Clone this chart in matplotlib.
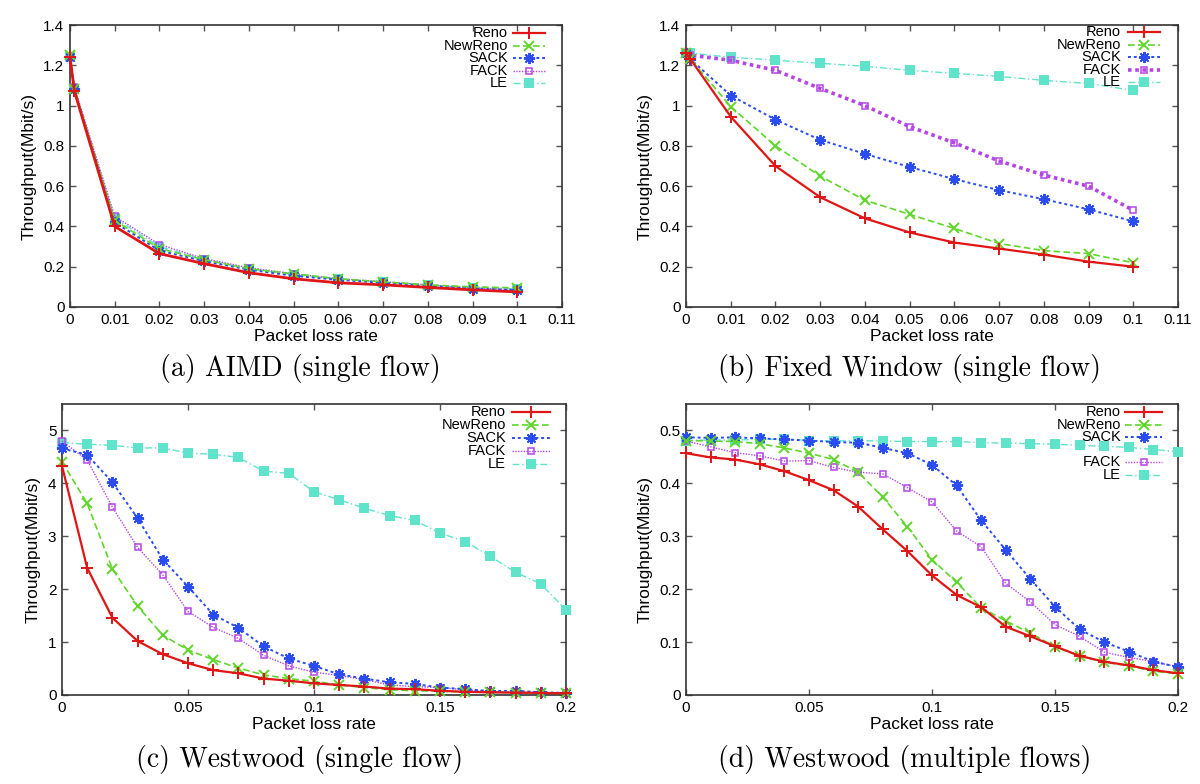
import matplotlib
matplotlib.use("Agg")
import matplotlib.pyplot as plt
from matplotlib.ticker import FuncFormatter

plt.rcParams['font.family'] = ['Liberation Sans', 'DejaVu Sans']

names = ["Reno", "NewReno", "SACK", "FACK", "LE"]

# (a) AIMD single flow
xa = [0, 0.001, 0.01, 0.02, 0.03, 0.04, 0.05, 0.06, 0.07, 0.08, 0.09, 0.1]
a_reno = [1.24, 1.07, 0.40, 0.265, 0.215, 0.17, 0.14, 0.12, 0.11, 0.097, 0.085, 0.075]
a_newreno = [1.25, 1.08, 0.43, 0.29, 0.235, 0.19, 0.165, 0.14, 0.125, 0.11, 0.10, 0.095]
a_sack = [1.24, 1.08, 0.42, 0.28, 0.228, 0.185, 0.155, 0.135, 0.12, 0.105, 0.09, 0.085]
a_fack = [1.24, 1.09, 0.45, 0.31, 0.24, 0.195, 0.165, 0.14, 0.125, 0.11, 0.095, 0.085]
a_le = [1.24, 1.08, 0.44, 0.30, 0.235, 0.19, 0.16, 0.14, 0.125, 0.11, 0.095, 0.09]

# (b) Fixed window single flow
xb = [0, 0.001, 0.01, 0.02, 0.03, 0.04, 0.05, 0.06, 0.07, 0.08, 0.09, 0.1]
b_reno = [1.26, 1.23, 0.945, 0.70, 0.545, 0.44, 0.37, 0.32, 0.29, 0.26, 0.225, 0.20]
b_newreno = [1.26, 1.23, 0.995, 0.80, 0.65, 0.53, 0.46, 0.39, 0.315, 0.28, 0.265, 0.22]
b_sack = [1.26, 1.23, 1.05, 0.93, 0.83, 0.76, 0.695, 0.635, 0.58, 0.535, 0.485, 0.425]
b_fack = [1.26, 1.25, 1.225, 1.175, 1.085, 1.00, 0.895, 0.815, 0.725, 0.655, 0.60, 0.48]
b_le = [1.26, 1.26, 1.24, 1.225, 1.21, 1.195, 1.175, 1.16, 1.145, 1.125, 1.11, 1.075]

# (c) Westwood single flow
xc = [0, 0.01, 0.02, 0.03, 0.04, 0.05, 0.06, 0.07, 0.08, 0.09, 0.1,
      0.11, 0.12, 0.13, 0.14, 0.15, 0.16, 0.17, 0.18, 0.19, 0.2]
c_reno = [4.33, 2.40, 1.46, 1.02, 0.77, 0.60, 0.47, 0.41, 0.31, 0.27, 0.22,
          0.19, 0.16, 0.12, 0.11, 0.08, 0.06, 0.05, 0.045, 0.04, 0.03]
c_newreno = [4.41, 3.62, 2.38, 1.68, 1.13, 0.85, 0.67, 0.51, 0.38, 0.31, 0.26,
             0.19, 0.14, 0.10, 0.08, 0.07, 0.06, 0.05, 0.045, 0.04, 0.03]
c_sack = [4.66, 4.54, 4.02, 3.34, 2.56, 2.05, 1.52, 1.27, 0.92, 0.69, 0.55,
          0.39, 0.31, 0.24, 0.21, 0.14, 0.11, 0.075, 0.08, 0.05, 0.04]
c_fack = [4.80, 4.44, 3.55, 2.79, 2.27, 1.58, 1.28, 1.07, 0.75, 0.55, 0.43,
          0.37, 0.29, 0.19, 0.16, 0.14, 0.10, 0.06, 0.06, 0.045, 0.04]
c_le = [4.77, 4.74, 4.72, 4.67, 4.67, 4.57, 4.55, 4.49, 4.23, 4.19, 3.84,
        3.69, 3.53, 3.39, 3.30, 3.06, 2.90, 2.62, 2.32, 2.10, 1.61]

# (d) Westwood multiple flows
xd = xc
d_reno = [0.457, 0.449, 0.445, 0.436, 0.423, 0.406, 0.387, 0.356, 0.313, 0.272, 0.226,
          0.189, 0.166, 0.129, 0.111, 0.092, 0.074, 0.063, 0.056, 0.047, 0.041]
d_newreno = [0.481, 0.480, 0.479, 0.475, 0.467, 0.457, 0.445, 0.421, 0.374, 0.318, 0.256,
             0.213, 0.165, 0.140, 0.117, 0.091, 0.074, 0.062, 0.055, 0.045, 0.040]
d_sack = [0.487, 0.486, 0.487, 0.485, 0.483, 0.481, 0.478, 0.477, 0.467, 0.457, 0.435,
          0.396, 0.330, 0.274, 0.219, 0.167, 0.124, 0.100, 0.082, 0.063, 0.053]
d_fack = [0.480, 0.469, 0.458, 0.452, 0.442, 0.443, 0.430, 0.421, 0.418, 0.392, 0.365,
          0.310, 0.280, 0.211, 0.176, 0.133, 0.111, 0.081, 0.071, 0.063, 0.053]
d_le = [0.481, 0.482, 0.482, 0.483, 0.484, 0.481, 0.480, 0.481, 0.480, 0.479, 0.479,
        0.479, 0.477, 0.476, 0.475, 0.474, 0.472, 0.470, 0.468, 0.464, 0.460]

# tick values
ticks_x_ab = [0, 0.01, 0.02, 0.03, 0.04, 0.05, 0.06, 0.07, 0.08, 0.09, 0.1, 0.11]
ticks_y_ab = [0, 0.2, 0.4, 0.6, 0.8, 1.0, 1.2, 1.4]
ticks_x_cd = [0, 0.05, 0.1, 0.15, 0.2]
ticks_y_c = [0, 1, 2, 3, 4, 5]
ticks_y_d = [0, 0.1, 0.2, 0.3, 0.4, 0.5]

colors = ['#e01515', '#5fd62a', '#2a4cf0', '#b446e6', '#5fe3cb']
styles = [
    dict(ls='-', lw=1.6, marker='+', ms=8, mew=1.4),
    dict(ls=(0, (4, 2)), lw=1.2, marker='x', ms=7, mew=1.4),
    dict(ls=(0, (1.5, 1.5)), lw=1.4, marker=(8, 2, 0), ms=8, mew=1.4),
    dict(ls=(0, (1, 1)), lw=1.0, marker='s', ms=5, mew=1.1, mfc='none'),
    dict(ls=(0, (5, 2, 1, 2)), lw=1.0, marker='s', ms=6.5, mew=0),
]

W, H = 1200, 784
fig = plt.figure(figsize=(12, 7.84), dpi=100)


def make_axes(l, r, t, b):
    return fig.add_axes([l / W, 1 - b / H, (r - l) / W, (b - t) / H])


def fmt(v, pos):
    return '%g' % round(v, 4)


def draw_legend(ax, rows, dtext, dl0, dl1, dtop, step, fack_lw=None):
    pos = ax.get_position()
    wpx, hpx = pos.width * W, pos.height * H
    for i, name in enumerate(names):
        y = 1 - (dtop + rows[i] * step) / hpx
        ax.text(1 - dtext / wpx, y, name, transform=ax.transAxes,
                ha='right', va='center', fontsize=10.5)
        st = dict(styles[i])
        if i == 3 and fack_lw:
            st['lw'] = fack_lw
        ax.plot([1 - dl0 / wpx, 1 - dl1 / wpx], [y, y], transform=ax.transAxes,
                color=colors[i], ls=st['ls'], lw=st['lw'], clip_on=False)
        ax.plot([1 - (dl0 + dl1) / 2 / wpx], [y], transform=ax.transAxes,
                color=colors[i], ls='none', marker=st['marker'], ms=st['ms'],
                mew=st['mew'], mfc=st.get('mfc', colors[i]), clip_on=False)


def style_axes(ax, xticks, yticks, xmax, ytop):
    ax.set_xticks(xticks)
    ax.set_yticks(yticks)
    ax.set_xlim(0, xmax)
    ax.set_ylim(0, ytop)
    ax.xaxis.set_major_formatter(FuncFormatter(fmt))
    ax.yaxis.set_major_formatter(FuncFormatter(fmt))
    ax.tick_params(direction='in', top=True, right=True, length=4, width=1,
                   color='#555555', labelsize=11, pad=4)
    for s in ax.spines.values():
        s.set_color('#333333')
        s.set_linewidth(1.2)
    ax.set_xlabel('Packet loss rate', fontsize=12.5, labelpad=2)
    ax.set_ylabel('Throughput(Mbit/s)', fontsize=12.5, labelpad=5)


panels = [
    (make_axes(70, 562, 25, 307), xa, [a_reno, a_newreno, a_sack, a_fack, a_le],
     (ticks_x_ab, ticks_y_ab, 0.11, 1.4), "(a) AIMD (single flow)", 300, 368),
    (make_axes(686, 1178, 25, 307), xb, [b_reno, b_newreno, b_sack, b_fack, b_le],
     (ticks_x_ab, ticks_y_ab, 0.11, 1.4), "(b) Fixed Window (single flow)", 910, 368),
    (make_axes(62, 566, 404, 695), xc, [c_reno, c_newreno, c_sack, c_fack, c_le],
     (ticks_x_cd, ticks_y_c, 0.2, 5.5), "(c) Westwood (single flow)", 300, 760),
    (make_axes(686, 1178, 404, 695), xd, [d_reno, d_newreno, d_sack, d_fack, d_le],
     (ticks_x_cd, ticks_y_d, 0.2, 0.55), "(d) Westwood (multiple flows)", 905, 760),
]

for k, (ax, xs, series, lim, caption, cx, cy) in enumerate(panels):
    for i, ys in enumerate(series):
        st = dict(styles[i])
        if k == 1 and i == 3:
            st['lw'] = 2.6
        if k == 0 and i == 0:
            st['lw'] = 2.0
        ax.plot(xs, ys, color=colors[i], clip_on=False, zorder=3 + (4 - i) * 0.1,
                **st)
    style_axes(ax, *lim)
    fig.text(cx / W, 1 - cy / H, caption, ha='center', va='center',
             fontsize=20, family=['cmr10', 'DejaVu Serif'])

draw_legend(panels[0][0], [0, 1, 2, 3, 4], 54, 49, 17, 8, 12.5)
draw_legend(panels[1][0], [0, 1, 2, 3, 4], 57, 50, 18, 7, 12.5, fack_lw=2.6)
draw_legend(panels[2][0], [0, 1, 2, 3, 4], 60, 54, 16, 8, 13)
draw_legend(panels[3][0], [0, 1, 2, 4, 5], 57, 53, 16, 8, 12.5)

fig.savefig('out.png', dpi=100)
